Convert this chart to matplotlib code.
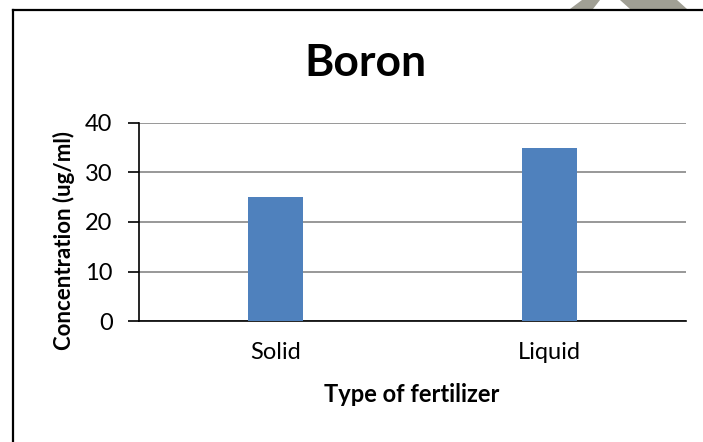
import matplotlib.pyplot as plt
from matplotlib.patches import Polygon
from matplotlib.lines import Line2D

plt.rcParams['font.family'] = ['Lato', 'DejaVu Sans']

# Data
categories = ["Solid", "Liquid"]
boron = [25, 35]
yticks = [0, 10, 20, 30, 40]

W, H = 703, 442
fig = plt.figure(figsize=(W / 100, H / 100), dpi=100)

# page border (left and top only) and watermark fragment
fig.add_artist(Line2D([13 / W, 13 / W], [0, 1 - 10 / H], color="black", lw=1.6))
fig.add_artist(Line2D([13 / W, 1], [1 - 10 / H, 1 - 10 / H], color="black", lw=1.6))
for pts in ([(570, 9), (582, 0), (600, 0), (593, 9)],
            [(630, 9), (620, 0), (677, 0), (687, 9)]):
    fig.add_artist(Polygon([(x / W, 1 - y / H) for x, y in pts],
                           closed=True, color="#a09f94", lw=0))

ax = fig.add_axes([139 / W, 1 - 321 / H, (686 - 139) / W, (321 - 123) / H])
ax.bar(categories, boron, width=0.2, color="#4f81bd", zorder=3)
ax.set_xlim(-0.5, 1.5)
ax.set_ylim(0, 40)
ax.set_yticks(yticks)
ax.yaxis.grid(True, color="#868686", lw=1.2)
ax.set_axisbelow(True)
for s in ["top", "right"]:
    ax.spines[s].set_visible(False)
ax.spines["left"].set_linewidth(1.2)
ax.spines["bottom"].set_linewidth(1.2)
ax.tick_params(axis="y", length=8, width=1.2, labelsize=17, pad=11)
ax.tick_params(axis="x", length=0, labelsize=17, pad=15)

fig.text(365 / W, 1 - 63 / H, "Boron", ha="center", va="center",
         fontsize=32, fontweight="bold")
fig.text(412 / W, 1 - 395 / H, "Type of fertilizer", ha="center", va="center",
         fontsize=17, fontweight="bold")
fig.text(64 / W, 1 - 240 / H, "Concentration (ug/ml)", ha="center", va="center",
         rotation=90, fontsize=16, fontweight="bold")

fig.savefig("out.png", dpi=100)
